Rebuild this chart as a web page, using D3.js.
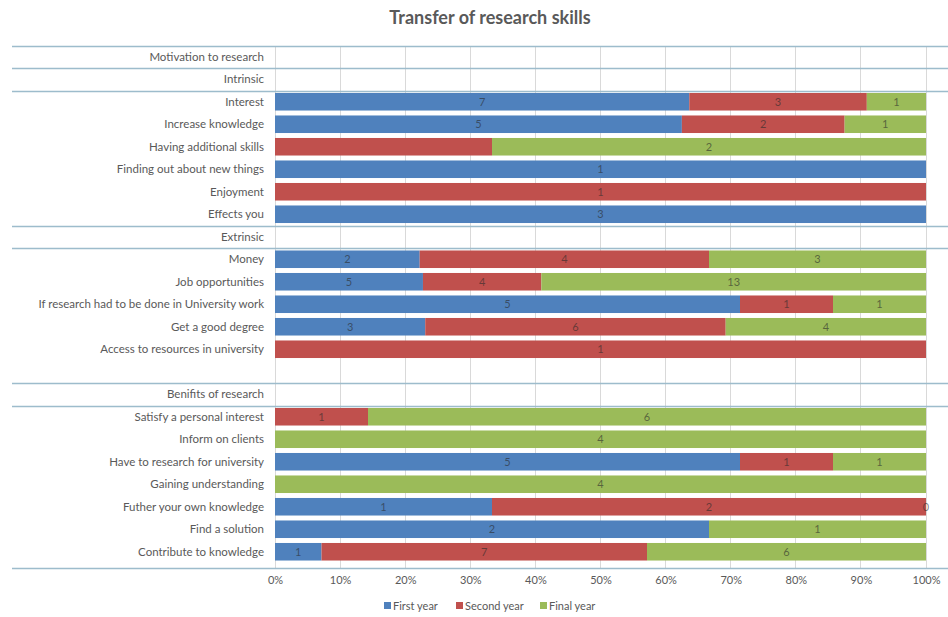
<!DOCTYPE html>
<html><head><meta charset="utf-8">
<script src="https://cdn.jsdelivr.net/npm/d3@7"></script>
<style>
body{margin:0;background:#fff;}
svg{display:block;font-family:Lato,"Open Sans",sans-serif;}
</style></head>
<body><svg id="chart" width="948" height="617"></svg>
<script>
const categories = ["Motivation to research","Intrinsic","Interest","Increase knowledge","Having additional skills","Finding out about new things","Enjoyment","Effects you","Extrinsic","Money","Job opportunities","If research had to be done in University work","Get a good degree","Access to resources in university","","Benifits of research","Satisfy a personal interest","Inform on clients","Have to research for university","Gaining understanding","Futher your own knowledge","Find a solution","Contribute to knowledge"];
const firstYear  = [null,null,7,5,null,1,null,3,null,2,5,5,3,null,null,null,null,null,5,null,1,2,1];
const secondYear = [null,null,3,2,1,null,1,null,null,4,4,1,6,1,null,null,1,null,1,null,2,null,7];
const finalYear  = [null,null,1,1,2,null,null,null,null,3,13,1,4,null,null,null,6,4,1,4,0,1,6];
const seriesNames = ["First year","Second year","Final year"];
const seriesColors = ["#4F81BD","#C0504D","#9BBB59"];
const hiddenLabels = [[4,1]]; // label not shown on "Having additional skills" second year
const separatorsAfter = [-1,0,1,7,8,14,15];
const tickValues = [0,0.1,0.2,0.3,0.4,0.5,0.6,0.7,0.8,0.9,1];

const svg = d3.select("#chart");
const x = d3.scaleLinear().domain([0,1]).range([275,926]);
const y = d3.scaleBand().domain(d3.range(categories.length)).range([45.5,563]).paddingInner(0.22).paddingOuter(0.11);
const step = y.step();
const bandTop = i => 45.5 + i*step;
const axisY = 568;

// vertical gridlines
svg.append("g").selectAll("line").data(tickValues).join("line")
  .attr("x1",d=>x(d)).attr("x2",d=>x(d)).attr("y1",46).attr("y2",axisY)
  .attr("stroke","#d9d9d9").attr("stroke-width",1).attr("shape-rendering","crispEdges");

// separator lines
const sepY = separatorsAfter.map(d=>Math.round(bandTop(d+1))+0.5).concat([axisY+0.5]);
svg.append("g").selectAll("line").data(sepY).join("line")
  .attr("x1",12).attr("x2",948)
  .attr("y1",d=>d).attr("y2",d=>d)
  .attr("stroke","#9dbccc").attr("stroke-width",1.5);

// stack
const series = [firstYear,secondYear,finalYear];
const rows = categories.map((c,i)=>{
  const vals = series.map(s=>s[i]);
  const total = d3.sum(vals.map(v=>v||0));
  let acc = 0;
  const segs = [];
  vals.forEach((v,k)=>{
    if(v===null || total===0) return;
    const x0 = acc/total; acc += v; const x1 = acc/total;
    segs.push({i,k,v,x0,x1});
  });
  return segs;
}).flat();

svg.append("g").selectAll("rect").data(rows.filter(d=>d.v>0)).join("rect")
  .attr("x",d=>x(d.x0)).attr("width",d=>x(d.x1)-x(d.x0))
  .attr("y",d=>y(d.i)).attr("height",y.bandwidth())
  .attr("fill",d=>seriesColors[d.k]);

const isHidden = d => hiddenLabels.some(h=>h[0]===d.i && h[1]===d.k);
svg.append("g").selectAll("text").data(rows.filter(d=>!isHidden(d))).join("text")
  .attr("x",d=>(x(d.x0)+x(d.x1))/2).attr("y",d=>y(d.i)+y.bandwidth()/2)
  .attr("dy","0.35em").attr("text-anchor","middle")
  .attr("font-size",11).attr("fill","#2a2a2a").attr("fill-opacity",0.6)
  .text(d=>d.v);

// category labels
svg.append("g").selectAll("text").data(categories).join("text")
  .attr("x",264).attr("y",(d,i)=>y(i)+y.bandwidth()/2).attr("dy","0.35em")
  .attr("text-anchor","end").attr("font-size",11.5).attr("fill","#595959")
  .text(d=>d);

// x axis
const ax = svg.append("g").attr("transform","translate(0,573)")
  .call(d3.axisBottom(x).tickValues(tickValues).tickFormat(d3.format(".0%")).tickSize(0));
ax.select(".domain").remove();
ax.selectAll("text").attr("font-family","Lato,'Open Sans',sans-serif").attr("font-size",11).attr("fill","#595959");

// title
svg.append("text").attr("x",490).attr("y",24).attr("text-anchor","middle")
  .attr("font-size",18).attr("font-weight","bold").attr("fill","#595959")
  .text("Transfer of research skills");

// legend
const lg = svg.append("g").attr("transform","translate(384,606)");
const legX = [0,72,156];
seriesNames.forEach((n,k)=>{
  const g = lg.append("g").attr("transform",`translate(${legX[k]},0)`);
  g.append("rect").attr("x",0).attr("y",-4).attr("width",7).attr("height",7).attr("fill",seriesColors[k]);
  g.append("text").attr("x",9).attr("y",0).attr("dy","0.35em").attr("font-size",11).attr("fill","#595959").text(n);
});
</script></body></html>
